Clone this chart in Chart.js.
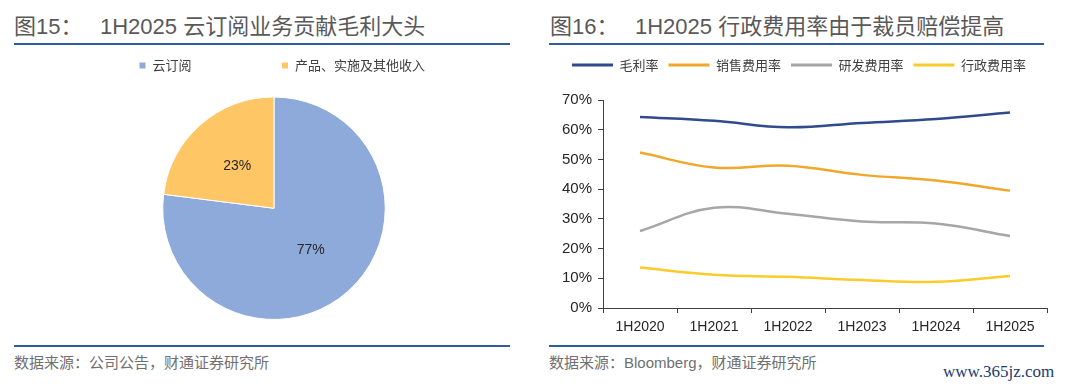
<!DOCTYPE html>
<html><head><meta charset="utf-8">
<script src="https://cdn.jsdelivr.net/npm/chart.js@4.4.1/dist/chart.umd.min.js"></script>
<style>
html,body{margin:0;padding:0;background:#fff;}
body{width:1080px;height:389px;position:relative;overflow:hidden;font-family:"Liberation Sans","Noto Sans CJK SC",sans-serif;}
.t{position:absolute;font-size:22px;line-height:22px;color:#595959;white-space:nowrap;top:16px;}
.rule{position:absolute;height:2px;background:#2E5E9E;}
.src{position:absolute;top:354px;font-size:15px;line-height:17px;color:#707070;white-space:nowrap;}
.wm{position:absolute;left:943px;top:362px;font-family:"Liberation Serif","DejaVu Serif",serif;font-size:17px;line-height:20px;color:#1B3A6E;white-space:nowrap;}
canvas{position:absolute;}
</style></head><body>
<div class="t" style="left:14px">图15：</div>
<div class="t" style="left:100px">1H2025 云订阅业务贡献毛利大头</div>
<div class="t" style="left:550px">图16：</div>
<div class="t" style="left:635px">1H2025 行政费用率由于裁员赔偿提高</div>
<div class="rule" style="left:14px;width:496px;top:43px"></div>
<div class="rule" style="left:549px;width:495px;top:43px"></div>
<div class="rule" style="left:14px;width:496px;top:345px"></div>
<div class="rule" style="left:549px;width:495px;top:345px"></div>
<div class="src" style="left:14px">数据来源：公司公告，财通证券研究所</div>
<div class="src" style="left:549px">数据来源：Bloomberg，财通证券研究所</div>
<div class="wm">www.365jz.com</div>
<canvas id="pie" width="540" height="351" style="left:0;top:-31px"></canvas>
<canvas id="line" width="540" height="300" style="left:540px;top:40px"></canvas>
<script>
// ---- data ----
const pieLabels = ['云订阅', '产品、实施及其他收入'];
const pieValues = [77, 23];
const pieColors = ['#8EAADB', '#FFC666'];

const periods = ['1H2020', '1H2021', '1H2022', '1H2023', '1H2024', '1H2025'];
const seriesNames = ['毛利率', '销售费用率', '研发费用率', '行政费用率'];
const grossMargin = [64.3, 63.0, 60.8, 62.3, 63.6, 65.8];
const sellingRatio = [52.3, 47.3, 47.9, 44.8, 42.9, 39.5];
const rdRatio = [25.9, 33.7, 31.7, 29.1, 28.4, 24.2];
const adminRatio = [13.6, 11.2, 10.5, 9.4, 8.8, 10.8];
const lineColors = ['#2F4B8C', '#F0A82C', '#A6A6A6', '#FACB2A'];
const yMin = 0, yMax = 70, yStep = 10;

const legendHeight = {
  id: 'legendHeight',
  beforeLayout(chart, args, opts) {
    const lg = chart.legend;
    if (lg && !lg._patched) {
      const extra = opts.extraWidth || 0;
      const origFit = lg.fit;
      lg.fit = function () {
        const mw = this.maxWidth;
        this.maxWidth = mw + extra;
        origFit.call(this);
        this.maxWidth = mw;
        this.width = Math.min(this.width, mw);
        this.height = opts.height;
      };
      const origDraw = lg.draw;
      lg.draw = function () {
        const r = this.right;
        this.right = r + extra;
        origDraw.apply(this, arguments);
        this.right = r;
      };
      lg._patched = true;
    }
  }
};

const pieValueLabels = {
  id: 'pieValueLabels',
  afterDatasetsDraw(chart) {
    const ctx = chart.ctx;
    const meta = chart.getDatasetMeta(0);
    ctx.save();
    ctx.font = '14px "Liberation Sans", Arial, sans-serif';
    ctx.fillStyle = '#262626';
    ctx.textAlign = 'center';
    ctx.textBaseline = 'middle';
    meta.data.forEach((arc, i) => {
      const p = arc.tooltipPosition();
      ctx.fillText(chart.data.datasets[0].data[i] + '%', p.x, p.y);
    });
    ctx.restore();
  }
};

new Chart(document.getElementById('pie'), {
  type: 'pie',
  data: { labels: pieLabels, datasets: [{ data: pieValues, backgroundColor: pieColors, borderColor: '#ffffff', borderWidth: 1 }] },
  options: {
    responsive: false, animation: false,
    layout: { padding: { left: 49, right: 41, top: 0, bottom: 0 } },
    plugins: {
      legendHeight: { height: 127.5, extraWidth: 200 },
      tooltip: { enabled: false },
      legend: {
        position: 'top', align: 'start',
        labels: { boxWidth: 7, boxHeight: 7, padding: 90, color: '#404040',
          font: { family: '"Noto Sans CJK SC", sans-serif', size: 13 } }
      }
    }
  },
  plugins: [legendHeight, pieValueLabels]
});

const lineData = [grossMargin, sellingRatio, rdRatio, adminRatio];
new Chart(document.getElementById('line'), {
  type: 'line',
  data: {
    labels: periods,
    datasets: seriesNames.map((n, i) => ({
      label: n, data: lineData[i], borderColor: lineColors[i], backgroundColor: lineColors[i],
      borderWidth: 2.5, pointRadius: 0, tension: 0.4, fill: false
    }))
  },
  options: {
    responsive: false, animation: false,
    layout: { padding: { left: 22, right: 33, top: 8.5, bottom: 0 } },
    plugins: {
      legendHeight: { height: 51.5, extraWidth: 0 },
      tooltip: { enabled: false },
      legend: {
        position: 'top', align: 'start',
        labels: {
          boxWidth: 41, boxHeight: 3, padding: 10, color: '#404040',
          font: { family: '"Noto Sans CJK SC", sans-serif', size: 13 },
          generateLabels: (chart) => Chart.defaults.plugins.legend.labels.generateLabels(chart).map(l => Object.assign(l, { lineWidth: 0 }))
        }
      }
    },
    scales: {
      x: {
        type: 'category', offset: true,
        grid: { offset: true, drawOnChartArea: false, drawTicks: true, tickLength: 5, color: '#404040' },
        border: { display: true, color: '#404040', width: 1 },
        ticks: { color: '#262626', padding: 6, maxRotation: 0, font: { family: '"Liberation Sans", Arial, sans-serif', size: 14 } },
        afterFit: (s) => { s.height = 32; }
      },
      y: {
        min: yMin, max: yMax,
        grid: { drawOnChartArea: false, drawTicks: true, tickLength: 5, color: '#404040' },
        border: { display: true, color: '#404040', width: 1 },
        ticks: { stepSize: yStep, color: '#262626', padding: 6, callback: (v) => v + '%',
          font: { family: '"Liberation Sans", Arial, sans-serif', size: 15 } },
        afterFit: (s) => { s.width = 41; }
      }
    }
  },
  plugins: [legendHeight]
});
</script>
</body></html>
